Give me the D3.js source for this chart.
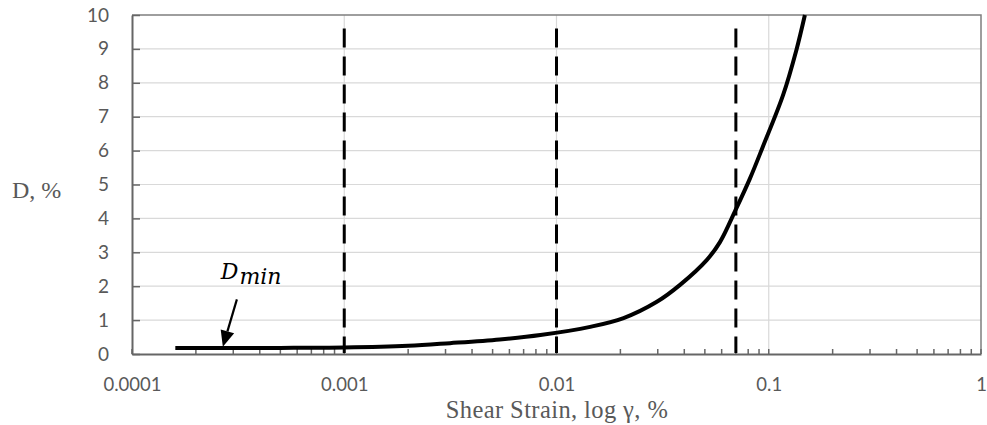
<!DOCTYPE html>
<html>
<head>
<meta charset="utf-8">
<script src="https://cdn.jsdelivr.net/npm/d3@7"></script>
<style>
  body { margin: 0; background: #fff; }
  svg { display: block; }
</style>
</head>
<body>
<div id="chart"></div>
<script>
// damping curve
var strain = [0.00016, 0.0003, 0.0005, 0.001, 0.002, 0.00315, 0.0054, 0.0084, 0.0144, 0.0207, 0.0297, 0.0382, 0.051, 0.0589, 0.0698, 0.0816, 0.0936, 0.117, 0.135, 0.148];
var damping = [0.18, 0.18, 0.18, 0.19, 0.24, 0.32, 0.43, 0.56, 0.8, 1.06, 1.54, 2.04, 2.77, 3.3, 4.25, 5.18, 6.1, 7.65, 8.97, 10];

// vertical dashed markers
var dashedStrain = [0.001, 0.01, 0.07];
var dashedTop = 9.6;

var xTickValues = [0.0001, 0.001, 0.01, 0.1, 1];
var xTickLabels = ["0.0001", "0.001", "0.01", "0.1", "1"];
var yTickValues = [0, 1, 2, 3, 4, 5, 6, 7, 8, 9, 10];

// Dmin annotation (data coords)
var arrowFrom = [0.000312, 1.61];
var arrowTo = [0.000268, 0.215];
var labelAt = [0.000262, 2.2];

const width = 987, height = 425;
const margin = {top: 15, right: 6, bottom: 71, left: 132};

const svg = d3.select("#chart").append("svg")
    .attr("width", width)
    .attr("height", height);

const x = d3.scaleLog()
    .domain([1e-4, 1])
    .range([margin.left, width - margin.right]);

const y = d3.scaleLinear()
    .domain([0, 10])
    .range([height - margin.bottom, margin.top]);

const x0 = x.range()[0], x1 = x.range()[1];
const yb = y(0), yt = y(10);

//gridlines
svg.append("g")
    .selectAll("line")
    .data(yTickValues.filter(d => d > 0 && d < 10))
    .join("line")
    .attr("x1", x0).attr("x2", x1)
    .attr("y1", d => y(d)).attr("y2", d => y(d))
    .attr("stroke", "#d9d9d9")
    .attr("stroke-width", 1.2);

svg.append("g")
    .selectAll("line")
    .data(xTickValues.slice(1, -1))
    .join("line")
    .attr("x1", d => x(d)).attr("x2", d => x(d))
    .attr("y1", yt).attr("y2", yb)
    .attr("stroke", "#d9d9d9")
    .attr("stroke-width", 1.2);

// plot area border (top and right)
svg.append("path")
    .attr("d", `M${x0},${yt}H${x1}V${yb}`)
    .attr("fill", "none")
    .attr("stroke", "#7f7f7f")
    .attr("stroke-width", 1.5);

// y axis
const yAxis = d3.axisLeft(y)
    .tickValues(yTickValues)
    .tickSizeInner(-8)
    .tickSizeOuter(0)
    .tickPadding(23)
    .tickFormat(d3.format("d"));

const gy = svg.append("g")
    .attr("transform", `translate(${x0},0)`)
    .call(yAxis);
gy.select(".domain").attr("stroke", "#666").attr("stroke-width", 2);
gy.selectAll(".tick line").attr("stroke", "#666").attr("stroke-width", 1.5);
gy.selectAll(".tick text")
    .attr("fill", "#595959")
    .style("font-family", "Lato, 'Open Sans', sans-serif")
    .style("font-size", "19px");

// x axis minor ticks (pointing up)
svg.append("g")
    .selectAll("line")
    .data(x.ticks())
    .join("line")
    .attr("x1", d => x(d)).attr("x2", d => x(d))
    .attr("y1", yb).attr("y2", yb - 5)
    .attr("stroke", "#666")
    .attr("stroke-width", 1.5);

const xAxis = d3.axisBottom(x)
    .tickValues(xTickValues)
    .tickSize(0)
    .tickPadding(24)
    .tickFormat((d, i) => xTickLabels[i]);

const gx = svg.append("g")
    .attr("transform", `translate(0,${yb})`)
    .call(xAxis);
gx.select(".domain").attr("stroke", "#666").attr("stroke-width", 2);
gx.selectAll(".tick text")
    .attr("fill", "#595959")
    .style("font-family", "Lato, 'Open Sans', sans-serif")
    .style("font-size", "18.5px");

// axis titles
svg.append("text")
    .attr("x", 12)
    .attr("y", 198)
    .attr("fill", "#595959")
    .style("font-family", "'Liberation Serif', 'Times New Roman', serif")
    .style("font-size", "24px")
    .text("D, %");

svg.append("text")
    .attr("x", (x0 + x1) / 2 + 0.5)
    .attr("y", 418)
    .attr("text-anchor", "middle")
    .attr("fill", "#595959")
    .style("font-family", "'Liberation Serif', 'Times New Roman', serif")
    .style("font-size", "24.5px")
    .style("letter-spacing", "0.4px")
    .text("Shear Strain, log \u03b3, %");

// dashed lines
svg.append("g")
    .selectAll("line")
    .data(dashedStrain)
    .join("line")
    .attr("x1", d => x(d)).attr("x2", d => x(d))
    .attr("y1", y(dashedTop)).attr("y2", yb - 1)
    .attr("stroke", "#000")
    .attr("stroke-width", 3)
    .attr("stroke-dasharray", "19,9");

// the curve
const pts = strain.map((s, i) => [s, damping[i]]);
const line = d3.line()
    .x(d => x(d[0]))
    .y(d => y(d[1]))
    .curve(d3.curveCatmullRom.alpha(0.5));

svg.append("path")
    .datum(pts)
    .attr("d", line)
    .attr("fill", "none")
    .attr("stroke", "#000")
    .attr("stroke-width", 4)
    .attr("stroke-linecap", "butt");

// Dmin arrow
const ax1 = x(arrowFrom[0]), ay1 = y(arrowFrom[1]);
const ax2 = x(arrowTo[0]), ay2 = y(arrowTo[1]);
const ang = Math.atan2(ay2 - ay1, ax2 - ax1);
const headLen = 16, headHalf = 7;
const bx = ax2 - headLen * Math.cos(ang), by = ay2 - headLen * Math.sin(ang);
svg.append("line")
    .attr("x1", ax1).attr("y1", ay1)
    .attr("x2", bx).attr("y2", by)
    .attr("stroke", "#000")
    .attr("stroke-width", 2.2);
svg.append("path")
    .attr("d", `M${ax2},${ay2}L${bx + headHalf * Math.sin(ang)},${by - headHalf * Math.cos(ang)}L${bx - headHalf * Math.sin(ang)},${by + headHalf * Math.cos(ang)}Z`)
    .attr("fill", "#000");

const lbl = svg.append("text")
    .attr("x", x(labelAt[0]))
    .attr("y", y(labelAt[1]))
    .attr("fill", "#000")
    .style("font-family", "'DejaVu Serif', serif")
    .style("font-style", "italic")
    .style("font-size", "22px");
lbl.append("tspan").text("D");
lbl.append("tspan").attr("dy", 5).attr("dx", 1).text("min");
</script>
</body>
</html>
